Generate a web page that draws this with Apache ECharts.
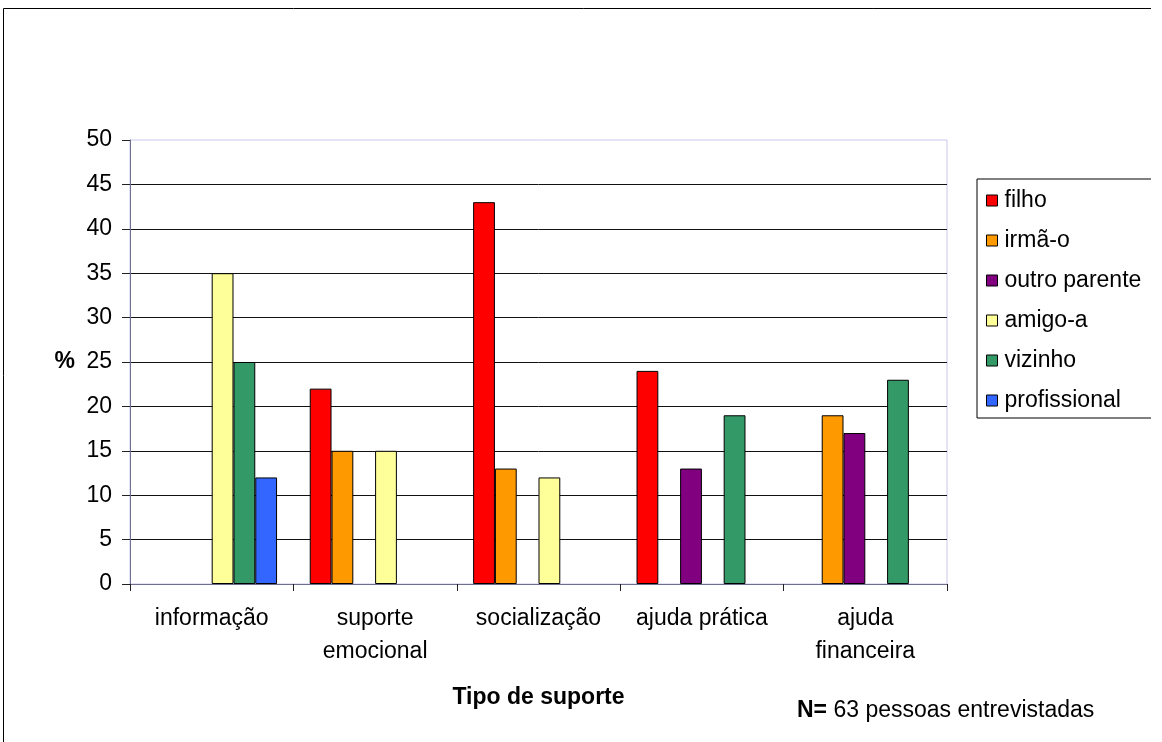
<!DOCTYPE html>
<html>
<head>
<meta charset="utf-8">
<script src="https://cdn.jsdelivr.net/npm/echarts@6/dist/echarts.min.js"></script>
<style>
  html, body { margin: 0; padding: 0; background: #fff; }
  body { width: 1162px; height: 742px; overflow: hidden; }
  #wrap { width: 1151px; height: 742px; overflow: hidden; }
  #chart { width: 1162px; height: 742px; }
</style>
</head>
<body>
<div id="wrap"><div id="chart"></div></div>
<script>
// Tipo de suporte por fonte (%), N = 63
const categories = ['informação', 'suporte\nemocional', 'socialização', 'ajuda prática', 'ajuda\nfinanceira'];
const yTicks = [0, 5, 10, 15, 20, 25, 30, 35, 40, 45, 50];

const filho        = [null, 22, 43, 24, null];
const irmao        = [null, 15, 13, null, 19];
const outroParente = [null, null, null, 13, 17];
const amigo        = [35, 15, 12, null, null];
const vizinho      = [25, null, null, 19, 23];
const profissional = [12, null, null, null, null];

const seriesDefs = [
  { name: 'filho',         data: filho,        color: '#FF0000' },
  { name: 'irmã-o',        data: irmao,        color: '#FF9900' },
  { name: 'outro parente', data: outroParente, color: '#800080' },
  { name: 'amigo-a',       data: amigo,        color: '#FFFF99' },
  { name: 'vizinho',       data: vizinho,      color: '#339966' },
  { name: 'profissional',  data: profissional, color: '#3366FF' }
];

const FONT = '"Liberation Sans", Arial, sans-serif';
const FS = 23;
const chart = echarts.init(document.getElementById('chart'), null, { renderer: 'canvas' });

chart.setOption({
  animation: false,
  backgroundColor: '#fff',
  textStyle: { fontFamily: FONT },
  grid: {
    left: 130, top: 140, right: 215, bottom: 158,
    show: true, borderColor: '#c8c8ec', borderWidth: 1, backgroundColor: 'transparent'
  },
  legend: {
    orient: 'vertical',
    left: 977, top: 179,
    padding: [10, 40, 6, 9],
    itemGap: 17,
    itemWidth: 11, itemHeight: 11,
    icon: 'rect',
    borderColor: '#000', borderWidth: 1,
    backgroundColor: '#fff',
    textStyle: { fontFamily: FONT, fontSize: FS, color: '#000', lineHeight: 23, padding: [0, 0, 0, 2] },
    itemStyle: { borderColor: '#000', borderWidth: 1 },
    data: seriesDefs.map(s => s.name)
  },
  xAxis: {
    type: 'category',
    data: categories,
    name: 'Tipo de suporte',
    nameLocation: 'middle',
    nameGap: 102,
    nameTextStyle: { fontFamily: FONT, fontSize: FS, fontWeight: 'bold', color: '#000' },
    axisLine: { lineStyle: { color: '#6f6f8f', width: 1 } },
    axisTick: { show: true, length: 7, lineStyle: { color: '#222' } },
    axisLabel: { fontFamily: FONT, fontSize: FS, color: '#000', margin: 18, lineHeight: 33, interval: 0 },
    splitLine: { show: false }
  },
  yAxis: {
    type: 'value',
    min: 0, max: 50, interval: 5,
    name: '%',
    nameLocation: 'middle',
    nameRotate: 0,
    nameGap: 55,
    nameTextStyle: { fontFamily: FONT, fontSize: FS, fontWeight: 'bold', color: '#000' },
    axisLine: { show: true, lineStyle: { color: '#6f6f8f', width: 1 } },
    axisTick: { show: true, length: 8, inside: false, lineStyle: { color: '#222' } },
    axisLabel: {
      fontFamily: FONT, fontSize: FS, color: '#000', margin: 18,
      formatter: v => (yTicks.indexOf(v) >= 0 ? String(v) : '')
    },
    splitLine: { show: true, showMaxLine: false, lineStyle: { color: '#111', width: 1 } }
  },
  series: seriesDefs.map(s => ({
    name: s.name,
    type: 'bar',
    data: s.data,
    barGap: '0%',
    barCategoryGap: '20%',
    itemStyle: { color: s.color, borderColor: '#000', borderWidth: 1 }
  })),
  graphic: [
    {
      type: 'rect',
      shape: { x: 3.5, y: 8.5, width: 1300, height: 900 },
      style: { fill: 'none', stroke: '#000', lineWidth: 1 },
      z: -10, silent: true
    },
    {
      type: 'text',
      left: 797, top: 699,
      style: {
        text: '{b|N=} 63 pessoas entrevistadas',
        font: FS + 'px ' + FONT,
        fill: '#000',
        rich: { b: { fontFamily: FONT, fontSize: FS, fontWeight: 'bold', fill: '#000' } }
      }
    }
  ]
});
</script>
</body>
</html>
